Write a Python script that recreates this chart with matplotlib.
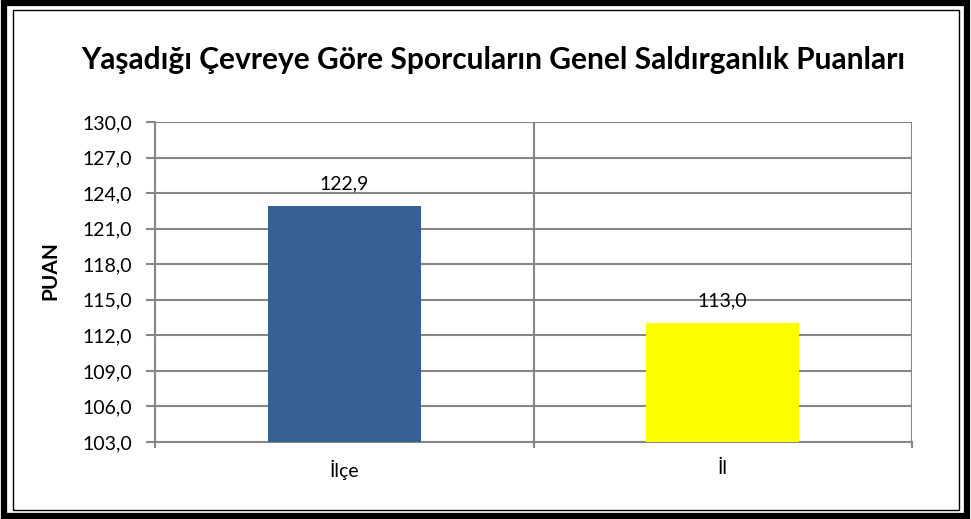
import matplotlib.pyplot as plt
from matplotlib.patches import Rectangle
from matplotlib.ticker import FixedLocator, FuncFormatter

# Data
categories = ['İlçe', 'İl']
values = [122.9, 113.0]
bar_colors = ['#376092', '#ffff00']
yticks = [103.0, 106.0, 109.0, 112.0, 115.0, 118.0, 121.0, 124.0, 127.0, 130.0]

plt.rcParams['font.family'] = ['Lato', 'DejaVu Sans']

W, H = 971, 519
fig = plt.figure(figsize=(W / 100, H / 100), dpi=100)

# double frame around the chart
fig.patches.append(Rectangle((4 / W, 3 / H), 1 - 8 / W, 1 - 6 / H, transform=fig.transFigure,
                             fill=False, ec='black', lw=4.5))
fig.patches.append(Rectangle((12.5 / W, 9.5 / H), 1 - 25 / W, 1 - 19.5 / H, transform=fig.transFigure,
                             fill=False, ec='black', lw=1))

ax = fig.add_axes([155 / W, 1 - 442 / H, (912 - 155) / W, (442 - 122) / H])

x = range(len(categories))
ax.bar(x, values, width=0.404, color=bar_colors, zorder=3, bottom=0)
ax.set_ylim(103, 130)
ax.set_xlim(-0.5, 1.5)

ax.set_yticks(yticks)
ax.yaxis.set_major_formatter(FuncFormatter(lambda v, p: '{:.1f}'.format(v).replace('.', ',')))
ax.yaxis.grid(True, color='#868686', lw=1.5, zorder=0)

# category boundaries as ticks and vertical grid lines
ax.set_xticks([-0.5, 0.5, 1.5])
ax.set_xticklabels([])
ax.xaxis.grid(True, color='#868686', lw=1.5, zorder=0)
ax.xaxis.set_minor_locator(FixedLocator(list(x)))
ax.set_xticklabels(categories, minor=True)
ax.tick_params(axis='x', which='minor', length=0, pad=13, labelsize=14)
ax.tick_params(axis='x', which='major', length=4.5, color='#868686', width=1.5)
ax.tick_params(axis='y', length=6.5, color='#868686', width=1.5, labelsize=14, pad=10)

for s in ['top', 'right']:
    ax.spines[s].set_visible(False)
for s in ['left', 'bottom']:
    ax.spines[s].set_color('#868686')
    ax.spines[s].set_linewidth(1.5)

for i, v in enumerate(values):
    ax.annotate('{:.1f}'.format(v).replace('.', ','), (i, v), xytext=(0, 16),
                textcoords='offset points', ha='center', va='center', fontsize=14)

fig.text(50 / W, 1 - 271 / H, 'PUAN', rotation=90, ha='center', va='center',
         fontsize=15, fontweight='bold')

fig.text(493 / W, 1 - 60 / H, 'Yaşadığı Çevreye Göre Sporcuların Genel Saldırganlık Puanları',
         ha='center', va='center', fontsize=21.5, fontweight='bold')

fig.savefig('out.png', dpi=100)
